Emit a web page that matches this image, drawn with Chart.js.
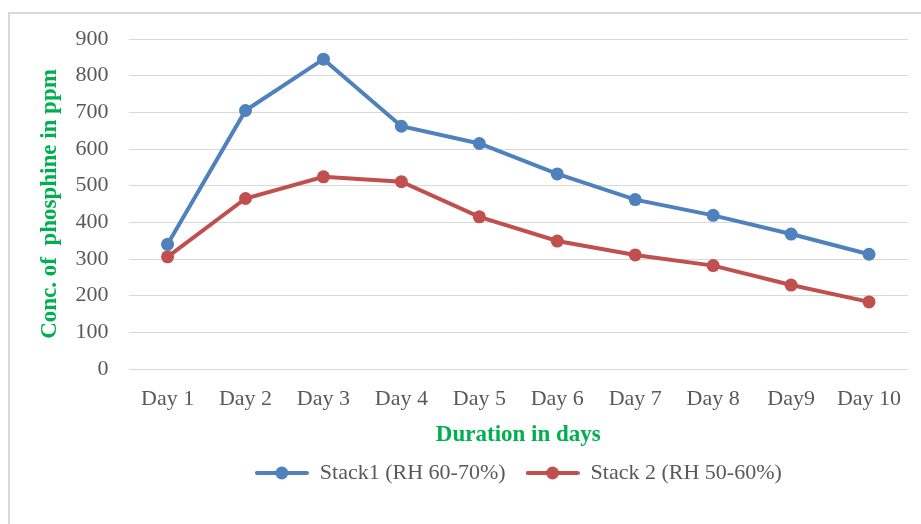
<!DOCTYPE html>
<html>
<head>
<meta charset="utf-8">
<script src="https://cdn.jsdelivr.net/npm/chart.js@4"></script>
<style>
  html, body { margin: 0; padding: 0; background: #fff; }
  #wrap { position: relative; width: 921px; height: 524px; overflow: hidden; }
  #frame { position: absolute; left: 8px; top: 12px; width: 940px; height: 540px; border: 2px solid #d9d9d9; box-sizing: border-box; }
  canvas { position: absolute; left: 0; top: 0; }
</style>
</head>
<body>
<div id="wrap">
  <div id="frame"></div>
  <canvas id="phChart" width="921" height="524"></canvas>
</div>
<script>
const days = ['Day 1', 'Day 2', 'Day 3', 'Day 4', 'Day 5', 'Day 6', 'Day 7', 'Day 8', 'Day9', 'Day 10'];
const stack1 = [340, 705, 845, 662, 615, 532, 462, 419, 368, 313];
const stack2 = [306, 465, 524, 511, 415, 349, 311, 282, 229, 183];
const seriesNames = ['Stack1 (RH 60-70%)', 'Stack 2 (RH 50-60%)'];
const seriesColors = ['#4f81bd', '#c0504d'];

// legend marker: a short line with a dot in the middle
function legendMarker(color) {
  const c = document.createElement('canvas');
  c.width = 54; c.height = 16;
  const g = c.getContext('2d');
  g.strokeStyle = color;
  g.lineWidth = 4;
  g.lineCap = 'round';
  g.beginPath(); g.moveTo(2, 8); g.lineTo(52, 8); g.stroke();
  g.fillStyle = color;
  g.beginPath(); g.arc(27, 8, 6.5, 0, Math.PI * 2); g.fill();
  return c;
}

const serif = "'Liberation Serif', 'Times New Roman', serif";
const green = '#00b050';

const ctx = document.getElementById('phChart').getContext('2d');
new Chart(ctx, {
  type: 'line',
  data: {
    labels: days,
    datasets: [stack1, stack2].map((vals, i) => ({
      label: seriesNames[i],
      data: vals,
      borderColor: seriesColors[i],
      backgroundColor: seriesColors[i],
      borderWidth: 4,
      pointRadius: 6.5,
      pointHoverRadius: 6.5,
      pointBorderWidth: 0,
      pointStyle: 'circle',
      fill: false,
      tension: 0
    }))
  },
  options: {
    responsive: false,
    animation: false,
    layout: { padding: { left: 36, right: 13, top: 39, bottom: 30 } },
    plugins: {
      tooltip: { enabled: false },
      legend: {
        position: 'bottom',
        fullSize: false,
        labels: {
          usePointStyle: true,
          pointStyleWidth: 54,
          boxHeight: 16,
          padding: 20,
          color: '#595959',
          font: { family: serif, size: 22 },
          generateLabels: chart => chart.data.datasets.map((ds, i) => ({
            text: ds.label,
            pointStyle: legendMarker(seriesColors[i]),
            fillStyle: seriesColors[i],
            strokeStyle: seriesColors[i],
            lineWidth: 0,
            fontColor: '#595959',
            datasetIndex: i
          }))
        }
      }
    },
    scales: {
      x: {
        offset: true,
        grid: { display: false, drawTicks: false },
        border: { display: false },
        ticks: { color: '#595959', font: { family: serif, size: 22 }, padding: 17, maxRotation: 0 },
        title: {
          display: true,
          text: 'Duration in days',
          color: green,
          font: { family: serif, size: 23, weight: 'bold' },
          padding: { top: -8, bottom: -7 }
        }
      },
      y: {
        min: 0,
        max: 900,
        ticks: { stepSize: 100, color: '#595959', font: { family: serif, size: 22 }, padding: 20 },
        grid: { color: '#d9d9d9', lineWidth: 1, drawTicks: false },
        border: { display: false },
        title: {
          display: true,
          text: 'Conc. of  phosphine in ppm',
          color: green,
          font: { family: serif, size: 23, weight: 'bold' },
          padding: { top: 0, bottom: -8 }
        }
      }
    }
  }
});
</script>
</body>
</html>
